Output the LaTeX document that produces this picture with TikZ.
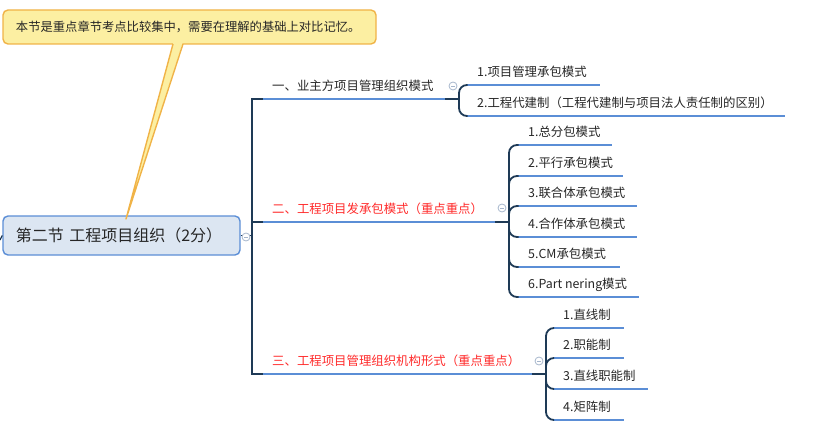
\documentclass[tikz,border=0pt]{standalone}
\usepackage{fontspec}
\setmainfont{Noto Sans CJK SC}
\usetikzlibrary{calc}
\definecolor{ublue}{HTML}{5B8ED6}
\definecolor{dkline}{HTML}{1E3A56}
\definecolor{notefill}{HTML}{FCEFA2}
\definecolor{noteline}{HTML}{F0B347}
\definecolor{mainfill}{HTML}{DCE6F2}
\definecolor{mainline}{HTML}{5B8ED6}
\definecolor{txt}{HTML}{262626}
\definecolor{redtxt}{HTML}{FF2A2A}
\definecolor{markcol}{HTML}{A6B6CC}
\tikzset{
  uline/.style={ublue, line width=2.6pt},
  dk/.style={dkline, line width=1.8pt},
  kid/.style={anchor=south west, inner xsep=10pt, inner ysep=0pt, text height=9pt, text depth=8pt, font=\fontsize{12.4pt}{14pt}\selectfont, text=txt},
  redkid/.style={kid, text=redtxt},
  collapser/.style={circle, draw=markcol, fill=white, line width=0.8pt, minimum size=8pt, inner sep=0pt,
    path picture={\draw[markcol, line width=0.8pt] ([xshift=2pt]path picture bounding box.west) -- ([xshift=-2pt]path picture bounding box.east);}},
}
\newcommand\kidnode[4]{\node[kid] (#1) at (#2) {#4}; \draw[uline] (#1.south west) -- ++(#3,0);}
\begin{document}
\begin{tikzpicture}[x=1pt,y=-1pt]
\useasboundingbox (0,0) rectangle (827,425);

% main node
\node[draw=mainline, fill=mainfill, line width=1.4pt, rounded corners=5pt,
      minimum width=237pt, minimum height=39pt, inner xsep=13pt, text width=211pt, align=left,
      font=\fontsize{16pt}{19pt}\selectfont, text=txt] (main) at (121.5,235.5) {第二节 工程项目组织（2分）};
\coordinate (lft) at (0,240);
\draw[dk, line width=1.2pt] (main.west) -- (lft);

% callout
\node[draw=noteline, fill=notefill, line width=1.4pt, rounded corners=5pt,
      minimum width=373pt, minimum height=34pt, inner xsep=13pt, text width=347pt, align=left,
      font=\fontsize{12.3pt}{14pt}\selectfont, text=txt] (note) at (189.5,27) {本节是重点章节考点比较集中，需要在理解的基础上对比记忆。};
\coordinate (tl) at (173,44);
\coordinate (tr) at (183,44);
\coordinate (tip) at (126,219);
\fill[notefill] ($(tl)+(0.3,-1.2)$) -- (tip) -- ($(tr)+(-0.3,-1.2)$) -- cycle;
\draw[noteline, line width=1.4pt, line join=round] (tl) -- (tip) -- (tr);

% branches
\node[kid] (b1) at (262,99) {一、业主方项目管理组织模式};
\node[redkid] (b2) at (262,222) {二、工程项目发承包模式（重点重点）};
\node[redkid] (b3) at (262,374) {三、工程项目管理组织机构形式（重点重点）};
\coordinate (b1e) at (445,99);
\coordinate (b2e) at (495,222);
\coordinate (b3e) at (532,374);
\draw[uline] (b1.south west) -- (b1e);
\draw[uline] (b2.south west) -- (b2e);
\draw[uline] (b3.south west) -- (b3e);

% trunk
\coordinate (tx) at (252,99);
\draw[dk] (main.east) -- (main.east -| tx);
\draw[dk, line join=miter] ([xshift=0.5pt]b1.south west) -- (tx) |- ([xshift=0.5pt]b3.south west);
\draw[dk] ([xshift=0.5pt]b2.south west) -- (b2.south west -| tx);

% children of branch 1
\kidnode{c11}{467,85}{133}{1.项目管理承包模式}
\kidnode{c12}{467,116}{318}{2.工程代建制（工程代建制与项目法人责任制的区别）}
% children of branch 2
\kidnode{c21}{518,145}{94}{1.总分包模式}
\kidnode{c22}{518,176}{105}{2.平行承包模式}
\kidnode{c23}{518,206}{119}{3.联合体承包模式}
\kidnode{c24}{518,237}{119}{4.合作体承包模式}
\kidnode{c25}{518,267}{102}{5.CM承包模式}
\kidnode{c26}{518,297}{121}{6.Part nering模式}
% children of branch 3
\kidnode{c31}{553,328}{71}{1.直线制}
\kidnode{c32}{553,358}{71}{2.职能制}
\kidnode{c33}{553,389}{95}{3.直线职能制}
\kidnode{c34}{553,420}{71}{4.矩阵制}

% brackets
\coordinate (j1) at (459,99);
\coordinate (j2) at (509,222);
\coordinate (j3) at (546,374);
\draw[dk] (b1e) -- (j1);
\draw[dk] (b2e) -- (j2);
\draw[dk] (b3e) -- (j3);
\foreach \c in {c11,c12}{\draw[dk, rounded corners=8pt] (j1) |- ([xshift=0.5pt]\c.south west);}
\foreach \c in {c21,c22,c23,c24,c25,c26}{\draw[dk, rounded corners=8pt] (j2) |- ([xshift=0.5pt]\c.south west);}
\foreach \c in {c31,c32,c33,c34}{\draw[dk, rounded corners=8pt] (j3) |- ([xshift=0.5pt]\c.south west);}

% collapse markers
\node[collapser] (m0) at (246,237) {};
\node[collapser] (m1) at (453,86) {};
\node[collapser] (m2) at (502,208) {};
\node[collapser] (m3) at (539,361) {};
\end{tikzpicture}
\end{document}
